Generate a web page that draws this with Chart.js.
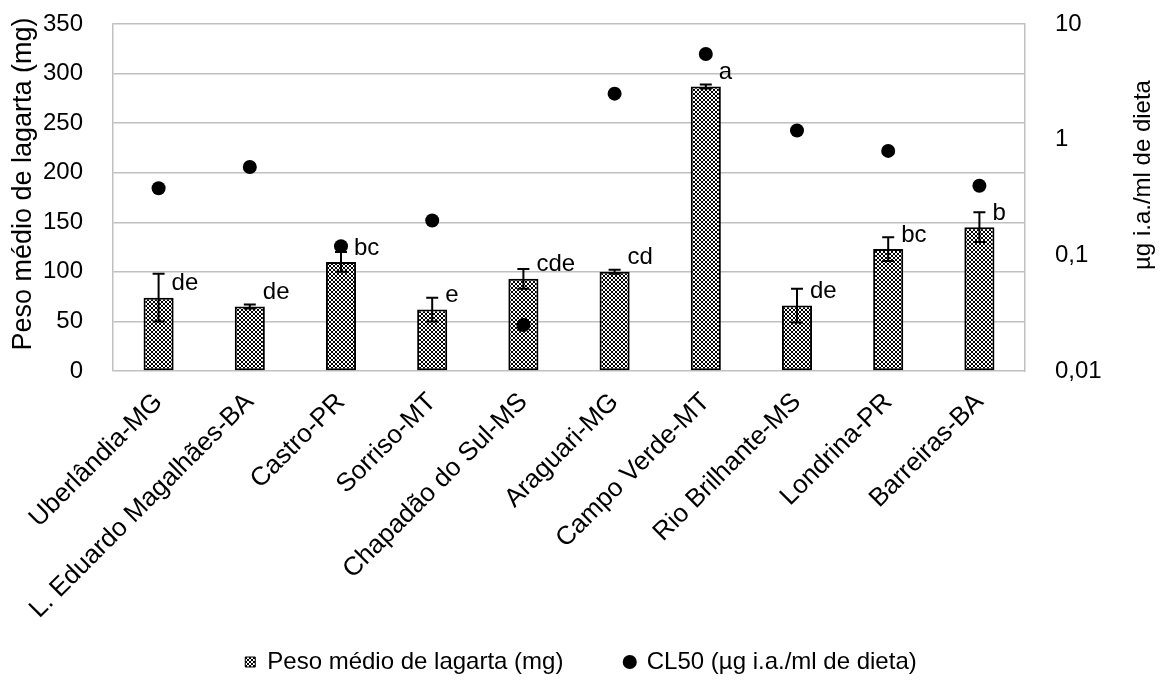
<!DOCTYPE html>
<html>
<head>
<meta charset="utf-8">
<script src="https://cdn.jsdelivr.net/npm/chart.js@4.4.1/dist/chart.umd.min.js"></script>
<style>
  html, body { margin: 0; padding: 0; background: #fff; }
  #wrap { width: 1162px; height: 684px; }
</style>
</head>
<body>
<div id="wrap"><canvas id="c"></canvas></div>
<script>
// Locations (populations) tested
const categories = [
  'Uberlândia-MG', 'L. Eduardo Magalhães-BA', 'Castro-PR', 'Sorriso-MT',
  'Chapadão do Sul-MS', 'Araguari-MG', 'Campo Verde-MT', 'Rio Brilhante-MS',
  'Londrina-PR', 'Barreiras-BA'
];
// Mean larval weight (mg) and its error
const weightMg  = [74, 65, 110, 62, 93, 100, 287, 66, 123, 145];
const weightErr = [24, 2, 10, 12, 10, 2, 2, 17, 12, 15];
// LC50 (µg a.i./ml of diet), log axis
const cl50 = [0.38, 0.58, 0.12, 0.2, 0.025, 2.5, 5.5, 1.2, 0.8, 0.4];
// Mean separation letters
const letters = ['de', 'de', 'bc', 'e', 'cde', 'cd', 'a', 'de', 'bc', 'b'];
// Axis ticks
const leftTicks = [0, 50, 100, 150, 200, 250, 300, 350];
const rightTicks = [0.01, 0.1, 1, 10];
const rightTickLabels = ['0,01', '0,1', '1', '10'];
// Texts
const seriesNames = ['Peso médio de lagarta (mg)', 'CL50 (µg i.a./ml de dieta)'];
const leftTitle = 'Peso médio de lagarta (mg)';
const rightTitle = 'µg i.a./ml de dieta';

const FONT = "'Liberation Sans', Arial, Helvetica, sans-serif";
const FS = 24;

const canvas = document.getElementById('c');
const mainCtx = canvas.getContext('2d');

// Crosshatch fill for the bars
function makePattern(ctx) {
  const t = document.createElement('canvas');
  t.width = 4; t.height = 4;
  const g = t.getContext('2d');
  g.fillStyle = '#fff';
  g.fillRect(0, 0, 4, 4);
  g.fillStyle = '#000';
  [[0,0],[1,1],[2,2],[3,3],[3,0],[2,1],[1,2],[0,3]].forEach(([x, y]) => g.fillRect(x, y, 1, 1));
  return ctx.createPattern(t, 'repeat');
}
const hatch = makePattern(mainCtx);

// Error bars, drawn right after the bars (below the LC50 points)
const errorBars = {
  id: 'errorBars',
  afterDatasetDraw(chart, args) {
    if (args.index !== 0) return;
    const { ctx } = chart;
    const y = chart.scales.y;
    ctx.save();
    ctx.strokeStyle = '#000';
    ctx.lineWidth = 2;
    args.meta.data.forEach((bar, i) => {
      const x = bar.x;
      const yt = y.getPixelForValue(weightMg[i] + weightErr[i]);
      const yb = y.getPixelForValue(weightMg[i] - weightErr[i]);
      const cap = 6;
      ctx.beginPath();
      ctx.moveTo(x, yt); ctx.lineTo(x, yb);
      ctx.moveTo(x - cap, yt); ctx.lineTo(x + cap, yt);
      ctx.moveTo(x - cap, yb); ctx.lineTo(x + cap, yb);
      ctx.stroke();
    });
    ctx.restore();
  }
};

// Letters beside each bar
const barLetters = {
  id: 'barLetters',
  afterDatasetsDraw(chart) {
    const { ctx } = chart;
    const meta = chart.getDatasetMeta(0);
    ctx.save();
    ctx.fillStyle = '#000';
    ctx.font = FS + 'px ' + FONT;
    ctx.textAlign = 'left';
    ctx.textBaseline = 'middle';
    meta.data.forEach((bar, i) => {
      ctx.fillText(letters[i], bar.x + 13, bar.y - 14);
    });
    ctx.restore();
  }
};

// Both axis titles, reading bottom to top
const axisTitles = {
  id: 'axisTitles',
  afterDraw(chart) {
    const { ctx } = chart;
    const draw = (text, x, y, size) => {
      ctx.save();
      ctx.translate(x, y);
      ctx.rotate(-Math.PI / 2);
      ctx.fillStyle = '#000';
      ctx.font = size + 'px ' + FONT;
      ctx.textAlign = 'center';
      ctx.textBaseline = 'middle';
      ctx.fillText(text, 0, 0);
      ctx.restore();
    };
    draw(leftTitle, 24, 184, 27);
    draw(rightTitle, 1143, 175, FS);
  }
};

const GRID = '#c0c0c0';

new Chart(canvas, {
  type: 'bar',
  data: {
    labels: categories,
    datasets: [
      {
        label: seriesNames[0],
        data: weightMg,
        backgroundColor: hatch,
        borderColor: '#000',
        borderWidth: 2,
        borderSkipped: false,
        categoryPercentage: 1,
        barPercentage: 0.33,
        yAxisID: 'y',
        order: 1
      },
      {
        type: 'line',
        label: seriesNames[1],
        data: cl50,
        showLine: false,
        pointRadius: 7,
        pointBackgroundColor: '#000',
        pointBorderWidth: 0,
        yAxisID: 'y1',
        order: 0
      }
    ]
  },
  options: {
    responsive: true,
    maintainAspectRatio: false,
    animation: false,
    events: [],
    layout: { padding: { top: 24, left: 0, right: 0, bottom: 0 } },
    plugins: {
      tooltip: { enabled: false },
      legend: {
        position: 'bottom',
        labels: {
          usePointStyle: true,
          boxWidth: 10,
          boxHeight: 10,
          padding: 8,
          color: '#000',
          font: { family: FONT, size: FS },
          generateLabels() {
            return [
              { text: seriesNames[0] + '        ', fillStyle: hatch, strokeStyle: '#000', lineWidth: 1,
                pointStyle: 'rect', datasetIndex: 0, hidden: false, fontColor: '#000' },
              { text: seriesNames[1], fillStyle: '#000', strokeStyle: '#000', lineWidth: 0,
                pointStyle: 'circle', datasetIndex: 1, hidden: false, fontColor: '#000' }
            ];
          }
        }
      }
    },
    scales: {
      x: {
        grid: { display: false, drawTicks: false },
        border: { display: false },
        ticks: {
          color: '#000',
          font: { family: FONT, size: 26 },
          minRotation: 45,
          maxRotation: 45,
          padding: 16,
          autoSkip: false
        },
        afterFit(s) { s.height = 271; }
      },
      y: {
        position: 'left',
        min: 0,
        max: 350,
        afterBuildTicks(s) { s.ticks = leftTicks.map(v => ({ value: v })); },
        grid: { color: GRID, lineWidth: 1.5, drawTicks: true, tickLength: 30, tickColor: 'rgba(0,0,0,0)' },
        border: { display: true, color: GRID, width: 1.5 },
        ticks: { color: '#000', font: { family: FONT, size: FS }, padding: 0 },
        afterFit(s) { s.width = 113; }
      },
      y1: {
        type: 'logarithmic',
        position: 'right',
        min: 0.01,
        max: 10,
        afterBuildTicks(s) { s.ticks = rightTicks.map(v => ({ value: v })); },
        grid: { display: true, drawOnChartArea: false, drawTicks: true, tickLength: 30, tickColor: 'rgba(0,0,0,0)' },
        border: { display: true, color: GRID, width: 1.5 },
        ticks: {
          color: '#000',
          font: { family: FONT, size: FS },
          padding: 0,
          callback(value, index) { return rightTickLabels[index]; }
        },
        afterFit(s) { s.width = 137; }
      }
    }
  },
  plugins: [errorBars, barLetters, axisTitles]
});
</script>
</body>
</html>
